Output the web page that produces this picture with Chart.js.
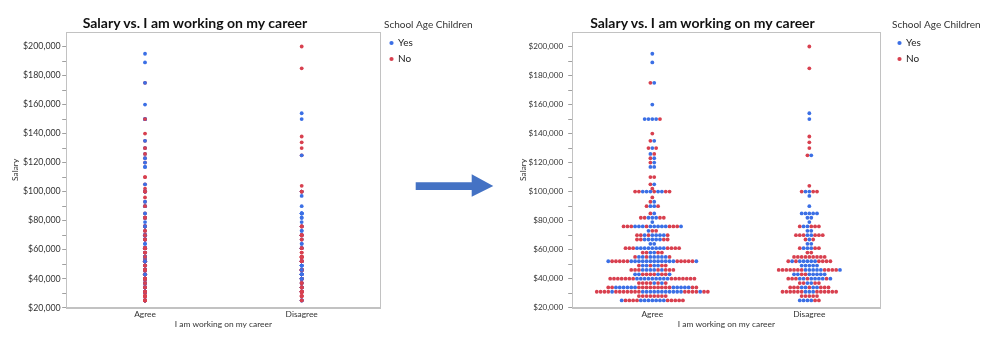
<!DOCTYPE html>
<html><head><meta charset="utf-8">
<script src="https://cdn.jsdelivr.net/npm/chart.js@4.4.1/dist/chart.umd.min.js"></script>
<style>
html,body{margin:0;padding:0;background:#fff;}
body{width:999px;height:353px;position:relative;overflow:hidden;font-family:Lato,sans-serif;}
.wrap{position:absolute;top:0;height:353px;}
.ttl{position:absolute;top:16px;width:300px;text-align:center;font:bold 14px/14px Lato,sans-serif;color:#111;white-space:nowrap;z-index:2}
svg.arrow{position:absolute;left:0;top:0}
</style></head><body>
<div class="ttl" style="left:45px">Salary vs. I am working on my career</div>
<div class="ttl" style="left:552.5px">Salary vs. I am working on my career</div>
<div class="wrap" style="left:0;width:490px"><canvas id="c1"></canvas></div>
<div class="wrap" style="left:506px;width:493px"><canvas id="c2"></canvas></div>
<svg class="arrow" width="999" height="353"><polygon points="415.7,182.3 471.7,182.3 471.7,174.3 493.3,186 471.7,196.7 471.7,190 415.7,190" fill="#4472c4"/></svg>
<script>
// ---- data ----
const categories = ['Agree', 'Disagree'];
const seriesNames = ['Yes', 'No'];           // School Age Children
const seriesCodes = ['Y', 'N'];
const seriesColors = ['#3b6fe5', '#d8404f'];
const yTickValues = [20000, 40000, 60000, 80000, 100000, 120000, 140000, 160000, 180000, 200000];
const yTickLabels = ['$20,000', '$40,000', '$60,000', '$80,000', '$100,000', '$120,000', '$140,000', '$160,000', '$180,000', '$200,000'];
const xAxisTitle = 'I am working on my career';
const yAxisTitle = 'Salary';
const legendTitle = 'School Age Children';

// each row: salary, then the respondents at that salary in data order (Y = Yes, N = No)
const agreeRows = [
  [195000, 'Y'],
  [189000, 'Y'],
  [175000, 'NY'],
  [160000, 'Y'],
  [150000, 'YYYYN'],
  [140000, 'N'],
  [135000, 'NY'],
  [130000, 'NYN'],
  [126000, 'YN'],
  [123000, 'NY'],
  [120000, 'NY'],
  [117000, 'YY'],
  [110000, 'NN'],
  [105000, 'NY'],
  [102000, 'N'],
  [100000, 'NNYYYNYYNN'],
  [96000, 'N'],
  [93000, 'NY'],
  [90000, 'NYYN'],
  [85000, 'NY'],
  [82000, 'NNYYYNN'],
  [79000, 'Y'],
  [76000, 'NNNYYYNYYYYYNNNY'],
  [73000, 'YNN'],
  [70000, 'NNYNYYYYN'],
  [67000, 'NNYYYYYNN'],
  [64000, 'YY'],
  [61000, 'NNNYYYYYYYYNNNN'],
  [58000, 'NNYYNN'],
  [55000, 'NYYNYYYYYN'],
  [52000, 'YNNNNNYYYYYYYYYYYYNNNNNY'],
  [49000, 'NYYNYYNN'],
  [46000, 'NNNYYYYNYNNN'],
  [43000, 'YYNNNNYNNY'],
  [40000, 'NNNNNNNYYYYYYYYYNNNNNNN'],
  [37000, 'NNNNYNYN'],
  [34000, 'NNYYYYYYNNNNNNNNNYYYYYNN'],
  [31000, 'NNNNYNNNNNNNYYYYYYYYYYYNNNNYNN'],
  [28000, 'NNNNNNNN'],
  [25000, 'YNNNNYYYYYYYNNNNN']
];
const disagreeRows = [
  [200000, 'N'],
  [185000, 'N'],
  [154000, 'Y'],
  [150000, 'Y'],
  [138000, 'N'],
  [134000, 'N'],
  [130000, 'N'],
  [125000, 'NY'],
  [104000, 'N'],
  [100000, 'NYYNN'],
  [97000, 'Y'],
  [90000, 'Y'],
  [85000, 'YYYYY'],
  [82000, 'YY'],
  [79000, 'Y'],
  [76000, 'NYYNNN'],
  [73000, 'YY'],
  [70000, 'NNNYYNNN'],
  [67000, 'NYN'],
  [64000, 'YY'],
  [61000, 'NYYYNN'],
  [58000, 'NN'],
  [55000, 'NNNNNNNNN'],
  [52000, 'NYNYYYYYNNNN'],
  [49000, 'YYYYY'],
  [46000, 'NNNNNNNYYYYYNNNNY'],
  [43000, 'YYNNYYYYY'],
  [40000, 'NNNYYNYYYYNY'],
  [37000, 'NNYYNN'],
  [34000, 'NNNYYNYYNNN'],
  [31000, 'NNNNNNYYYNNNNNN'],
  [28000, 'NNNNN'],
  [25000, 'YYYYNN']
];
const categoryRows = [agreeRows, disagreeRows];

// ---- styling ----
const FONT = 'Lato, sans-serif';
const TEXT = '#333333';
const FRAME = '#c2c2c2';

function observations() {
  const obs = [];
  categoryRows.forEach((rows, c) => rows.forEach(([salary, seq]) => {
    [...seq].forEach((code, i) => obs.push({ c, salary, s: seriesCodes.indexOf(code), i, n: seq.length }));
  }));
  return obs;
}

// keeps the legend box wide enough for its title
const legendWidthPlugin = {
  id: 'legendWidth',
  beforeLayout(chart, args, opts) {
    const lg = chart.legend;
    if (lg && !lg._fixedWidth) {
      const fit = lg.fit;
      lg.fit = function () { fit.call(this); this.width = opts.width; };
      lg._fixedWidth = true;
    }
  }
};

function makeChart(id, L) {
  const obs = observations();
  const pointStyle = { borderWidth: 0, pointBorderWidth: 0, pointRadius: 1.9, pointHoverRadius: 1.9,
                       pointStyle: 'circle', showLine: false, xAxisID: 'x', yAxisID: 'y' };
  let datasets;
  if (L.swarm) {
    datasets = seriesNames.map((name, s) => Object.assign({
      label: name,
      data: obs.filter(o => o.s === s).map(o => ({ x: o.c, y: o.salary, o })),
      backgroundColor: seriesColors[s],
      borderColor: seriesColors[s]
    }, pointStyle));
  } else {
    // one dataset drawn in data order, so later respondents sit on top of earlier ones
    datasets = [Object.assign({
      label: 'Respondents',
      data: obs.map(o => ({ x: o.c, y: o.salary, o })),
      backgroundColor: obs.map(o => seriesColors[o.s]),
      pointBackgroundColor: obs.map(o => seriesColors[o.s]),
      borderColor: obs.map(o => seriesColors[o.s])
    }, pointStyle)];
  }
  const small = { family: FONT, size: 8.4 };
  const chart = new Chart(document.getElementById(id), {
    type: 'scatter',
    data: { datasets },
    plugins: [legendWidthPlugin],
    options: {
      responsive: true,
      maintainAspectRatio: false,
      animation: false,
      events: [],
      layout: { padding: { left: 0, top: 0, bottom: 0, right: L.padR } },
      scales: {
        x: {
          type: 'linear', position: 'bottom', min: L.xMin, max: L.xMax,
          afterBuildTicks: s => { s.ticks = categories.map((c, i) => ({ value: i })); },
          afterFit: s => { s.height = 45.3; },
          ticks: { autoSkip: false, maxRotation: 0, padding: 1.5, color: TEXT, font: small,
                   callback: v => categories[v] },
          grid: { display: false, drawTicks: false },
          border: { display: true, color: FRAME, width: 2 },
          title: { display: true, text: xAxisTitle, color: TEXT, font: small, padding: { top: 0, bottom: 23.7 } }
        },
        x2: {
          type: 'linear', position: 'top',
          afterFit: s => { s.height = 32; },
          ticks: { display: false },
          grid: { display: false, drawTicks: false },
          border: { display: true, color: FRAME, width: 1 }
        },
        y: {
          type: 'linear', position: 'left', min: 20000, max: 210000,
          afterBuildTicks: s => { s.ticks = s.ticks.filter(t => t.value <= 200000); },
          afterFit: s => { s.width = 66.7; },
          ticks: { stepSize: 10000, autoSkip: false, padding: L.tickPad, color: TEXT,
                   font: { family: FONT, size: L.yFont },
                   callback: v => { const k = yTickValues.indexOf(v); return k >= 0 ? yTickLabels[k] : ''; } },
          grid: { display: true, drawOnChartArea: false, drawTicks: true, tickLength: 4.5, color: '#a0a0a0', lineWidth: 1 },
          border: { display: true, color: FRAME, width: 1 },
          title: { display: true, text: yAxisTitle, color: TEXT, font: small, padding: { top: L.yTitlePad, bottom: 0 } }
        },
        y2: {
          type: 'linear', position: 'right',
          afterFit: s => { s.width = L.gap; },
          ticks: { display: false },
          grid: { display: false, drawTicks: false },
          border: { display: true, color: FRAME, width: 1 }
        }
      },
      plugins: {
        legendWidth: { width: 95 },
        title: { display: false },
        tooltip: { enabled: false },
        legend: {
          position: 'right', align: 'start',
          labels: {
            usePointStyle: true, pointStyle: 'circle', boxWidth: 3, boxHeight: 3, padding: 6,
            color: '#222', font: { family: FONT, size: 10 },
            generateLabels: () => seriesNames.map((name, s) => ({
              text: name, fillStyle: seriesColors[s], strokeStyle: seriesColors[s], lineWidth: 0,
              pointStyle: 'circle', hidden: false, fontColor: '#222', datasetIndex: L.swarm ? s : 0
            }))
          },
          title: { display: true, text: legendTitle, position: 'start', color: '#333',
                   font: { family: FONT, size: 10 }, padding: { top: 20, bottom: 0 } }
        }
      }
    }
  });
  if (L.swarm) {
    const sx = chart.scales.x;
    const step = L.pitch / (sx.getPixelForValue(1) - sx.getPixelForValue(0));
    chart.data.datasets.forEach(ds => ds.data.forEach(p => {
      p.x = p.o.c + (p.o.i - (p.o.n - 1) / 2) * step;
    }));
    chart.update();
  }
  return chart;
}

makeChart('c1', { swarm: false, xMin: -0.5, xMax: 1.5, padR: 11, gap: 4, tickPad: 1.5, yTitlePad: 10.7, yFont: 8.8 });
makeChart('c2', { swarm: true, pitch: 3.83, xMin: -0.507, xMax: 1.45, padR: 12, gap: 12, tickPad: 5, yTitlePad: 12.3, yFont: 8.1 });
</script>
</body></html>
